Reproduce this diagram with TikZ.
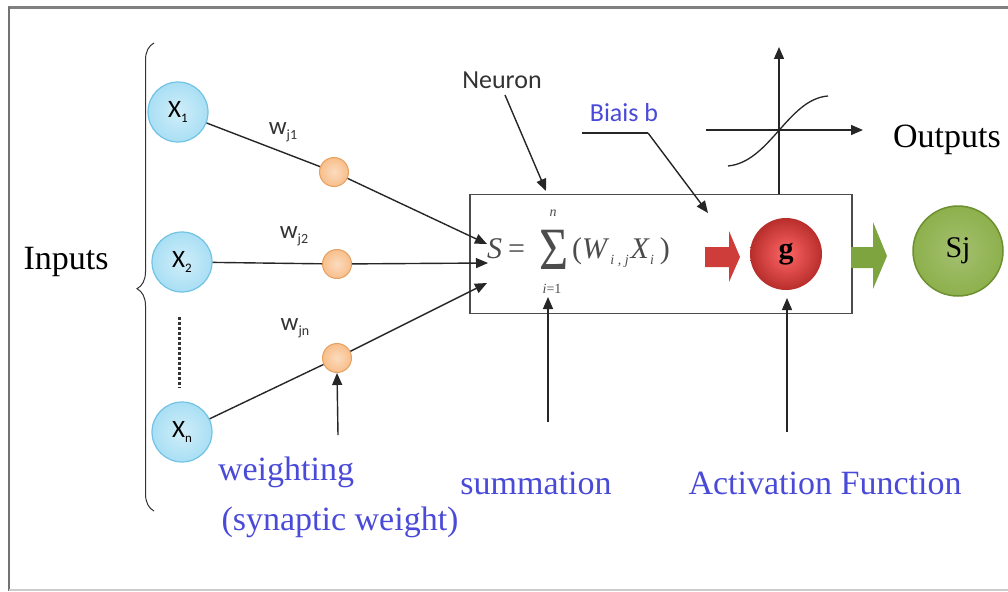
\documentclass[tikz,border=0pt]{standalone}
\usepackage{fontspec}
\usepackage{graphicx}
\setmainfont{Liberation Serif}
\newfontfamily\calfont{Carlito}
\usetikzlibrary{arrows.meta,decorations.pathreplacing}
\definecolor{inblue}{HTML}{A9DFF4}
\definecolor{inblueedge}{HTML}{72C3E3}
\definecolor{wor}{HTML}{F8BE8A}
\definecolor{woredge}{HTML}{E6A060}
\definecolor{gred}{HTML}{CC3330}
\definecolor{sgreen}{HTML}{8DB04C}
\definecolor{sgreenedge}{HTML}{6C8F30}
\definecolor{agreen}{HTML}{7DA43F}
\definecolor{lblue}{HTML}{4A4AD8}
\tikzset{
  inp/.style={circle, minimum size=60pt, inner sep=0pt, draw=inblueedge, line width=1.2pt,
    inner color=inblue!55!white, outer color=inblue, font=\calfont\fontsize{25}{25}\selectfont},
  wt/.style={circle, minimum size=29pt, inner sep=0pt, draw=woredge, line width=1pt,
    inner color=wor!55!white, outer color=wor},
  conn/.style={line width=1.4pt, black!85},
  arr/.style={conn, -{Triangle[length=12pt,width=10pt]}},
  wlab/.style={font=\calfont\fontsize{25}{25}\selectfont, text=black!80},
  bigtxt/.style={font=\fontsize{34}{36}\selectfont},
  bluetxt/.style={bigtxt, text=lblue},
  ftxt/.style={text=black!70, inner sep=0pt},
}
\begin{document}
\begin{tikzpicture}[x=1pt,y=-1pt]
\useasboundingbox (0,0) rectangle (1008,591);
% frame
\draw[line width=3pt, black!50] (8,7.5) -- (1008,7.5);
\draw[line width=2pt, black!55] (9,7) -- (9,591);
\draw[line width=1.5pt, black!20] (9,590) -- (1008,590);

% inputs brace and label
\draw[line width=1pt, black!80, decorate, decoration={brace, amplitude=17pt, aspect=0.475}]
  (154,511) -- (154,43);
\node[bigtxt] (inputs) at (66,262) {Inputs};

% neuron box
\node[draw=black!70, line width=1.2pt, minimum width=382pt, minimum height=119pt, inner sep=0pt]
  (box) at (661,254) {};

% input nodes
\node[inp] (x1) at (178,112) {X\raisebox{-0.35ex}{\fontsize{13}{13}\selectfont 1}};
\node[inp] (x2) at (182,262) {X\raisebox{-0.35ex}{\fontsize{13}{13}\selectfont 2}};
\node[inp] (xn) at (182,432) {X\raisebox{-0.35ex}{\fontsize{13}{13}\selectfont n}};
\draw[line width=3pt, dotted, black!80] (179,317) -- (179,388);

% weights
\coordinate (e1) at (487,244);
\coordinate (e2) at (488,263);
\coordinate (e3) at (487,283);
\node[wt] (w1) at (334,172) {};
\node[wt] (w2) at (337,264) {};
\node[wt] (wn) at (337,358) {};
\draw[conn] (x1) -- (w1);
\draw[arr] (w1) -- (e1);
\draw[conn] (x2) -- (w2);
\draw[arr] (w2) -- (e2);
\draw[conn] (xn) -- (wn);
\draw[arr] (wn) -- (e3);
\node[wlab] (l1) at (283,132) {w\raisebox{-0.45ex}{\fontsize{14}{14}\selectfont j1}};
\node[wlab] (l2) at (294,236) {w\raisebox{-0.45ex}{\fontsize{14}{14}\selectfont j2}};
\node[wlab] (l3) at (295,328) {w\raisebox{-0.45ex}{\fontsize{14}{14}\selectfont jn}};

% formula
\node[ftxt, anchor=base west, font=\fontsize{30}{30}\selectfont] (fs) at (487,258) {\textit{S}\kern6pt=};
\node[ftxt, font=\fontsize{50}{50}\selectfont] (fsig) at (554,250) {\scalebox{1}[1.2]{Σ}};
\node[ftxt, font=\itshape\fontsize{14}{14}\selectfont] (fn) at (553,213) {n};
\node[ftxt, font=\fontsize{14}{14}\selectfont] (fi) at (552,289) {\textit{i}=1};
\node[ftxt, anchor=base west, font=\fontsize{30}{30}\selectfont] (fr) at (572,258)
  {(\textit{W}\kern1pt\raisebox{-0.5ex}{\fontsize{14}{14}\selectfont\itshape i , j}\kern2pt\textit{X}\raisebox{-0.5ex}{\fontsize{14}{14}\selectfont\itshape i}\kern6pt)};

% neuron label
\node[font=\calfont\fontsize{26}{26}\selectfont, text=black!80] (neuron) at (502,80) {Neuron};
\draw[arr] (505,95) -- (546,191);

% bias
\node[font=\calfont\fontsize{26}{26}\selectfont, text=lblue] (bias) at (624,113) {Biais b};
\coordinate (b0) at (582,133);
\coordinate (b1) at (648,133);
\coordinate (b2) at (708,213);
\draw[conn] (b0) -- (b1);
\draw[arr] (b1) -- (b2);

% red arrow and g
\fill[gred!95] (705,247) -- (729,247) -- (729,231) -- (740,257) -- (729,282) -- (729,267) -- (705,267) -- cycle;
\node[circle, minimum size=72pt, inner sep=0pt, inner color=red!60!white, outer color=gred!90!black,
  font=\bfseries\fontsize{30}{30}\selectfont]
  (g) at (786,254) {g};

% green arrow and Sj
\fill[agreen] (851,247) -- (873,247) -- (873,222) -- (887,256) -- (873,289) -- (873,268) -- (851,268) -- cycle;
\node[circle, minimum size=90pt, inner sep=0pt, draw=sgreenedge, line width=1.5pt,
  inner color=sgreen!80!white, outer color=sgreen, font=\fontsize{30}{30}\selectfont]
  (sj) at (958,251) {Sj};

% activation plot
\coordinate (vtop) at (779,47);
\coordinate (hl) at (706,130);
\coordinate (hr) at (863,130);
\coordinate (vb) at (779,194);
\draw[arr] (vb) -- (vtop);
\draw[arr] (hl) -- (hr);
\draw[line width=1.3pt, black!85] (728,166) .. controls (770,162) and (788,99) .. (828,96);
\node[bigtxt] (outputs) at (947,140) {Outputs};

% bottom labels and arrows
\node[bluetxt] (weighting) at (286,472) {weighting};
\node[bluetxt] (syn) at (340,522) {(synaptic weight)};
\node[bluetxt] (summation) at (536,483) {summation};
\node[bluetxt] (act) at (825,483) {Activation Function};
\coordinate (a1) at (338,435);
\coordinate (a2) at (548,422);
\coordinate (a3) at (787,432);
\draw[arr] (a1) -- (wn.south);
\draw[arr] (a2) -- (548,297);
\draw[arr] (a3) -- (787,298);
\end{tikzpicture}
\end{document}
